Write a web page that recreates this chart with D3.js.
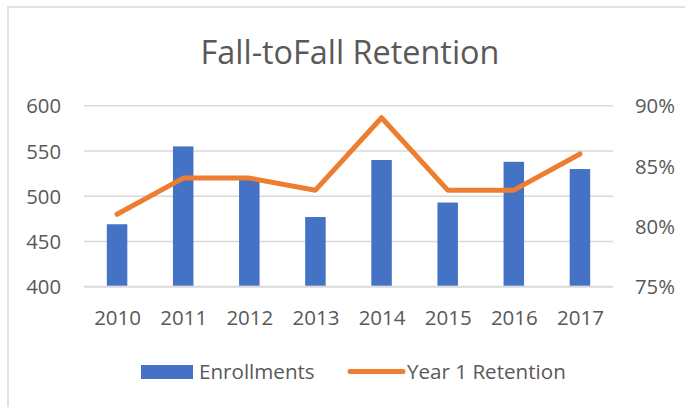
<!DOCTYPE html>
<html>
<head>
<meta charset="utf-8">
<script src="https://cdn.jsdelivr.net/npm/d3@7"></script>
<style>
  html, body { margin: 0; padding: 0; background: #fff; }
  svg { display: block; }
  text { font-family: "Open Sans", sans-serif; fill: #595959; }
</style>
</head>
<body>
<svg id="chart" width="685" height="407"></svg>
<script>
const years = ["2010", "2011", "2012", "2013", "2014", "2015", "2016", "2017"];
const enrollments = [469, 555, 519, 477, 540, 493, 538, 530];
const retention = [0.81, 0.84, 0.84, 0.83, 0.89, 0.83, 0.83, 0.86];
const leftTicks = [400, 450, 500, 550, 600];
const rightTicks = [0.75, 0.80, 0.85, 0.90];
const title = "Fall-toFall Retention";
const seriesNames = ["Enrollments", "Year 1 Retention"];

const svg = d3.select("#chart");
const blue = "#4472C4", orange = "#ED7D31", grid = "#D9D9D9";

// chart border
svg.append("rect").attr("x", 8).attr("y", 7).attr("width", 720).attr("height", 440)
  .attr("fill", "none").attr("stroke", grid).attr("stroke-width", 1.5);

const x = d3.scaleBand().domain(years).range([84, 613]).paddingInner(0.69).paddingOuter(0.345);
const xc = d3.scalePoint().domain(years).range([84 + 529 / 16, 613 - 529 / 16]);
const yL = d3.scaleLinear().domain([400, 600]).range([286.7, 105.7]);
const yR = d3.scaleLinear().domain([0.75, 0.90]).range([286.7, 105.7]);

// title
svg.append("text").attr("x", 350).attr("y", 64).attr("text-anchor", "middle")
  .style("font-size", "32.4px").text(title);

// gridlines
svg.append("g").selectAll("line").data(leftTicks).join("line")
  .attr("x1", 84).attr("x2", 613)
  .attr("y1", d => yL(d)).attr("y2", d => yL(d))
  .attr("stroke", grid).attr("stroke-width", d => d === 400 ? 2 : 1.5);

// left axis labels
const leftAxis = d3.axisLeft(yL).tickValues(leftTicks).tickSize(0).tickPadding(0).tickFormat(d3.format("d"));
const gL = svg.append("g").attr("transform", "translate(61,0)").call(leftAxis);
gL.select(".domain").remove();
gL.selectAll("text").style("font-size", "20.3px").attr("fill", "#595959").attr("dy", "0.35em");

// right axis labels
const rightAxis = d3.axisRight(yR).tickValues(rightTicks).tickSize(0).tickPadding(0).tickFormat(d3.format(".0%"));
const gR = svg.append("g").attr("transform", "translate(635,0)").call(rightAxis);
gR.select(".domain").remove();
gR.selectAll("text").style("font-size", "20.3px").attr("fill", "#595959").attr("dy", "0.35em");

// x axis labels
const bottomAxis = d3.axisBottom(xc).tickSize(0).tickPadding(0);
const gB = svg.append("g").attr("transform", "translate(0,318)").call(bottomAxis);
gB.select(".domain").remove();
gB.selectAll("text").style("font-size", "20.5px").attr("fill", "#595959").attr("dy", "0.35em");

// bars
svg.append("g").selectAll("rect").data(years).join("rect")
  .attr("x", d => x(d)).attr("width", x.bandwidth())
  .attr("y", (d, i) => yL(enrollments[i]))
  .attr("height", (d, i) => yL(400) - yL(enrollments[i]) - 1)
  .attr("fill", blue);

// line
const line = d3.line().x((d, i) => xc(years[i])).y(d => yR(d));
svg.append("path").datum(retention).attr("d", line)
  .attr("fill", "none").attr("stroke", orange).attr("stroke-width", 5)
  .attr("stroke-linejoin", "round").attr("stroke-linecap", "round");

// legend
const lg = svg.append("g");
lg.append("rect").attr("x", 141).attr("y", 365).attr("width", 52).attr("height", 14).attr("fill", blue);
lg.append("text").attr("x", 199).attr("y", 378.5).style("font-size", "20.6px").text(seriesNames[0]);
lg.append("line").attr("x1", 350).attr("x2", 403).attr("y1", 371.5).attr("y2", 371.5)
  .attr("stroke", orange).attr("stroke-width", 5).attr("stroke-linecap", "round");
lg.append("text").attr("x", 407).attr("y", 378.5).style("font-size", "20.6px").text(seriesNames[1]);
</script>
</body>
</html>
